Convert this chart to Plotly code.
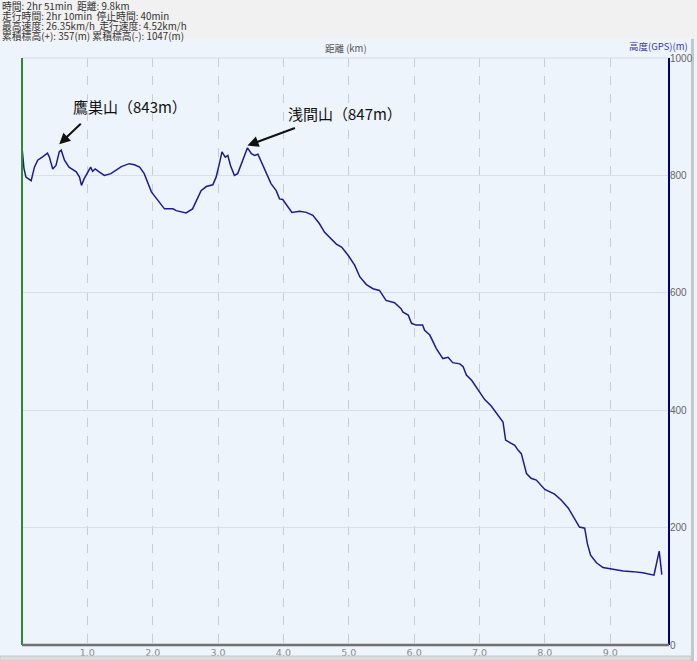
import plotly.graph_objects as go

# Elevation profile (distance km, elevation m)
distance_km = [0.00, 0.01, 0.03, 0.06, 0.14, 0.19, 0.24, 0.32, 0.39, 0.42, 0.47, 0.52, 0.57, 0.60,
               0.65, 0.72, 0.83, 0.88, 0.91, 0.95, 1.00, 1.05, 1.08, 1.12, 1.18, 1.26, 1.36,
               1.52, 1.64, 1.72, 1.80, 1.87, 1.98, 2.08, 2.18, 2.31, 2.36, 2.51, 2.61, 2.74,
               2.82, 2.92, 2.97, 3.02, 3.06, 3.11, 3.15, 3.19, 3.25, 3.30, 3.38, 3.45, 3.51,
               3.56, 3.61, 3.66, 3.74, 3.81, 3.89, 3.94, 3.99, 4.07, 4.13, 4.25, 4.35, 4.45,
               4.55, 4.63, 4.73, 4.81, 4.89, 4.99, 5.09, 5.17, 5.27, 5.37, 5.47, 5.57, 5.70,
               5.80, 5.83, 5.91, 5.96, 6.03, 6.13, 6.16, 6.24, 6.34, 6.44, 6.52, 6.59, 6.70,
               6.75, 6.80, 6.88, 6.98, 7.08, 7.18, 7.26, 7.36, 7.40, 7.49, 7.54, 7.59, 7.64,
               7.72, 7.79, 7.87, 8.00, 8.15, 8.25, 8.36, 8.46, 8.53, 8.61, 8.65, 8.70, 8.79,
               8.89, 9.02, 9.20, 9.35, 9.50, 9.67, 9.75, 9.79]
elevation_m = [848, 830, 812, 797, 791, 814, 826, 832, 838, 831, 811, 817, 840, 843,
               826, 814, 806, 797, 783, 794, 803, 814, 807, 811, 806, 800, 803,
               815, 820, 818, 814, 803, 772, 757, 743, 743, 740, 736, 743, 774,
               781, 784, 797, 820, 840, 831, 834, 817, 800, 803, 828, 847, 837,
               834, 836, 823, 803, 786, 774, 760, 759, 746, 737, 739, 737, 732,
               718, 703, 692, 683, 678, 664, 647, 627, 614, 607, 604, 587, 583,
               573, 567, 562, 548, 545, 545, 536, 528, 505, 488, 490, 481, 479,
               474, 460, 451, 434, 418, 407, 394, 380, 349, 343, 340, 332, 326,
               292, 284, 281, 265, 257, 247, 233, 213, 201, 199, 173, 153, 140,
               132, 129, 126, 125, 123, 119, 160, 120]

x_tick_vals = [1, 2, 3, 4, 5, 6, 7, 8, 9]
x_tick_text = ["1.0", "2.0", "3.0", "4.0", "5.0", "6.0", "7.0", "8.0", "9.0"]
y_tick_vals = [0, 200, 400, 600, 800, 1000]
y_tick_text = ["0", "200", "400", "600", "800", "1000"]

header_lines = [
    "時間: 2hr 51min  距離: 9.8km",
    "走行時間: 2hr 10min  停止時間: 40min",
    "最高速度: 26.35km/h  走行速度: 4.52km/h",
    "累積標高(+): 357(m) 累積標高(-): 1047(m)",
]
peaks = [("鷹巣山（843m）", 0.60, 843), ("浅間山（847m）", 3.45, 847)]

JP = "Noto Sans CJK JP"
W, H = 697, 661
L, R, T, B = 22, 669, 58, 645  # plot area pixel box


def px(x):
    return (x - L) / (R - L)


def py(y):
    return (B - y) / (B - T)


fig = go.Figure()
fig.add_trace(go.Scatter(x=distance_km, y=elevation_m, mode="lines",
                         line=dict(color="#1c1c8e", width=1.5), hoverinfo="skip",
                         showlegend=False))

shapes = [
    # header band
    dict(type="rect", xref="paper", yref="paper", x0=px(0), x1=px(W), y0=py(39), y1=py(0),
         fillcolor="#F1F1F1", line=dict(width=0), layer="below"),
    # right frame strip
    dict(type="rect", xref="paper", yref="paper", x0=px(691), x1=px(694), y0=py(H), y1=py(39),
         fillcolor="#C4C8CC", line=dict(width=0), layer="below"),
    # bottom scrollbar
    dict(type="rect", xref="paper", yref="paper", x0=px(0), x1=px(691), y0=py(H), y1=py(656),
         fillcolor="#DCDCDC", line=dict(color="#C8C8C8", width=1)),
    # top border
    dict(type="line", xref="paper", yref="paper", x0=0, x1=1, y0=1, y1=1,
         line=dict(color="#D5DCE4", width=1)),
    # left green axis line
    dict(type="line", xref="paper", yref="paper", x0=0, x1=0, y0=0, y1=1,
         line=dict(color="#2E8B2E", width=2)),
    # right navy axis line
    dict(type="line", xref="paper", yref="paper", x0=1, x1=1, y0=0, y1=1,
         line=dict(color="#00007F", width=2)),
    # bottom gray axis line
    dict(type="line", xref="paper", yref="paper", x0=0, x1=1, y0=0, y1=0,
         line=dict(color="#707070", width=2.5)),
]

annotations = []
for i, line in enumerate(header_lines):
    annotations.append(dict(text=line, xref="paper", yref="paper", x=px(0), y=py(6 + 10 * i),
                            xanchor="left", yanchor="middle", showarrow=False,
                            font=dict(family=JP, size=9.8, color="#333333")))
annotations.append(dict(text="距離 (km)", xref="paper", yref="paper", x=px(346), y=py(48),
                        xanchor="center", yanchor="middle", showarrow=False,
                        font=dict(family=JP, size=9.5, color="#555555")))
annotations.append(dict(text="高度(GPS)(m)", xref="paper", yref="paper", x=px(690), y=py(46),
                        xanchor="right", yanchor="middle", showarrow=False,
                        font=dict(family=JP, size=9.5, color="#3a3a9a")))

# peak labels + arrows
label_offsets = [(1.66, 917, 23, -22, 0.57, 853), (4.94, 906, 49, -18, 3.45, 851)]
for (name, _, _), (tx, ty, ax, ay, hx, hy) in zip(peaks, label_offsets):
    annotations.append(dict(text=name, x=tx, y=ty, xref="x", yref="y", showarrow=False,
                            font=dict(family=JP, size=15, color="#111111")))
    annotations.append(dict(text="", x=hx, y=hy, xref="x", yref="y", showarrow=True,
                            ax=ax, ay=ay, arrowhead=2, arrowsize=1.1, arrowwidth=2,
                            arrowcolor="#111111"))

fig.update_layout(
    width=W, height=H,
    margin=dict(l=L, r=W - R, t=T, b=H - B, pad=0),
    paper_bgcolor="#EEF4FB", plot_bgcolor="#EEF4FB",
    shapes=shapes, annotations=annotations, showlegend=False,
    xaxis=dict(range=[0, 9.9], tickvals=x_tick_vals, ticktext=x_tick_text,
               showgrid=True, gridcolor="#C5CDD6", griddash="dash", gridwidth=1,
               zeroline=False, showline=False, ticks="", automargin=False,
               ticklabelstandoff=0,
               tickfont=dict(family="DejaVu Sans", size=9.5, color="#8a8a8a")),
    yaxis=dict(range=[0, 1000], side="right", tickvals=y_tick_vals, ticktext=y_tick_text,
               showgrid=True, gridcolor="#D9E0E8", gridwidth=1, zeroline=False,
               showline=False, ticks="", automargin=False, ticklabelstandoff=0,
               tickfont=dict(family="Liberation Sans", size=10, color="#666666")),
)

fig.write_html("out.html", config={"displayModeBar": False},
               post_script="document.body.style.margin='0';document.body.style.overflow='hidden';")
